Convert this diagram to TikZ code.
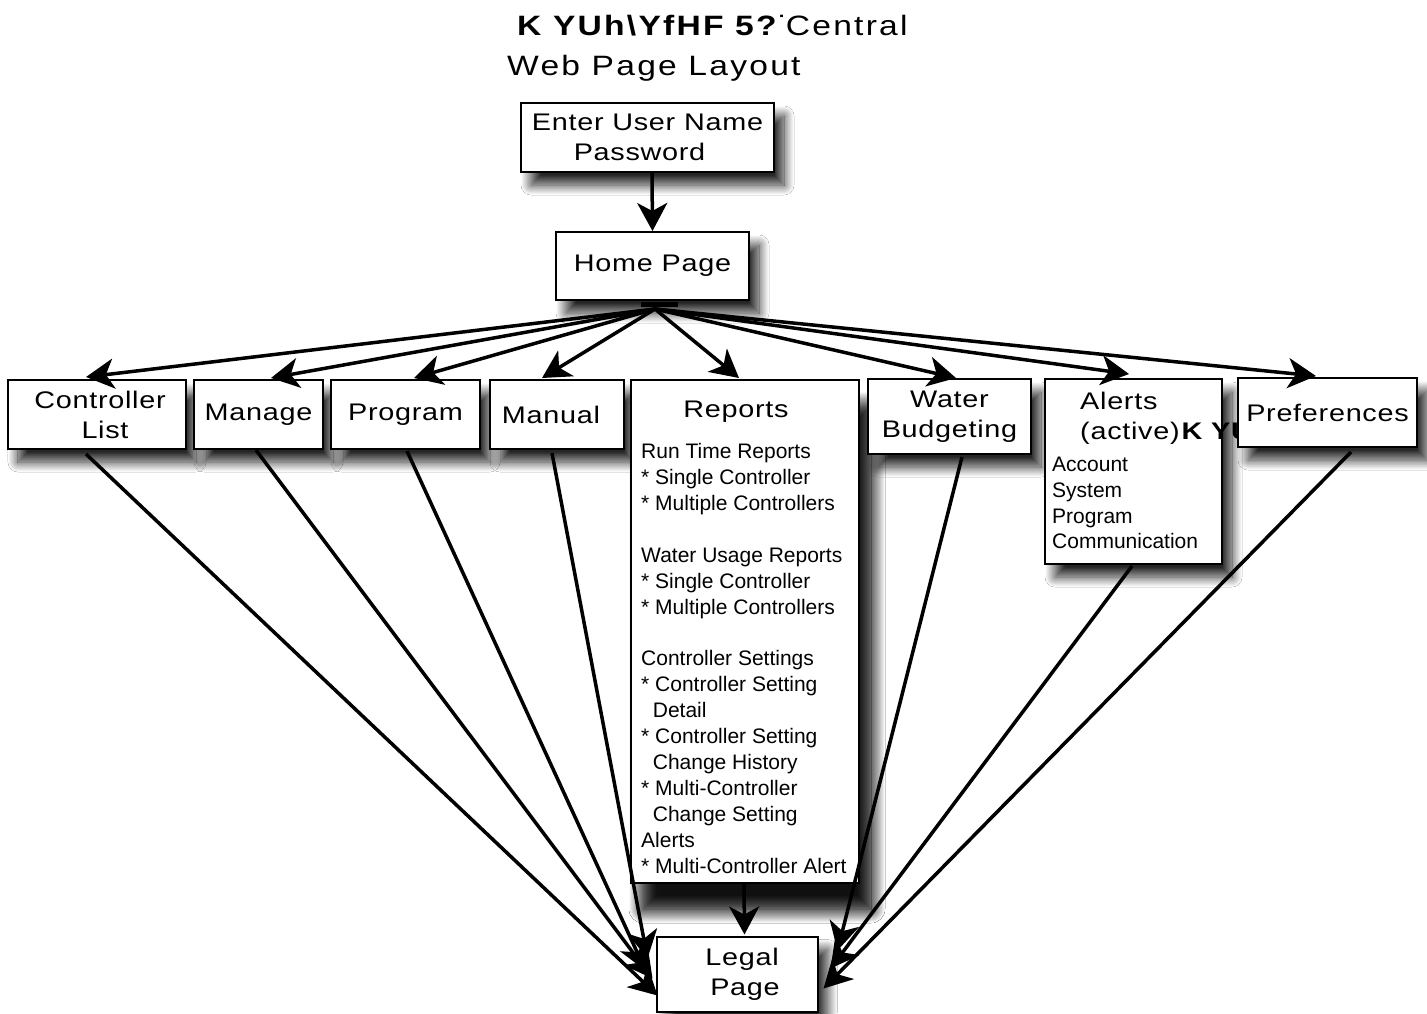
\documentclass[tikz,border=0pt]{standalone}
\usepackage{fontspec}
\setmainfont{Liberation Sans}
\newfontfamily\boxfont[FakeStretch=1.2,LetterSpace=3]{Liberation Sans}
\newfontfamily\titlefont[FakeStretch=1.2,LetterSpace=8]{Liberation Sans}
\usetikzlibrary{arrows.meta,calc,shadows.blur}
\tikzset{
  box/.style={draw, line width=2pt, fill=white,
    blur shadow={shadow xshift=10pt, shadow yshift=-13pt, shadow blur radius=10pt, shadow opacity=85, shadow blur steps=20},
    inner sep=0pt, align=center, font=\boxfont\fontsize{24}{30}\selectfont},
  con/.style={line width=3.5pt, -{Stealth[length=28pt,width=30pt,inset=8pt]}},
  lbl/.style={inner sep=0pt, anchor=base west, font=\fontsize{21}{26}\selectfont},
  ttl/.style={inner sep=0pt, anchor=base west, font=\boxfont\fontsize{24}{30}\selectfont},
}
\begin{document}
\begin{tikzpicture}[x=1pt,y=-1pt]
\useasboundingbox (0,0) rectangle (1427,1013);
\fill[white] (0,0) rectangle (1427,1013);

% title
\node[inner sep=0pt, anchor=base west] (title1) at (517,35)
  {\titlefont\fontsize{28}{40}\selectfont{\bfseries K YUh\textbackslash YfHF 5?}\kern1pt˙\kern-3pt Central};
\node[inner sep=0pt, anchor=base west] (title2) at (507,75)
  {\titlefont\fontsize{28}{40}\selectfont Web Page Layout};

% boxes
\node[box, minimum width=253pt, minimum height=69pt] (enter) at (647.5,137.5) {Enter User Name\\Password\hspace*{16pt}};
\node[box, minimum width=193pt, minimum height=68pt] (home) at (652.5,266) {Home Page};
\node[box, minimum width=178pt, minimum height=69pt] (cl) at (97,414.5) {\hspace*{6pt}Controller\\\hspace*{16pt}List};
\node[box, minimum width=129pt, minimum height=69pt] (manage) at (258.5,414.5) {Manage};
\node[box, minimum width=149pt, minimum height=69pt] (program) at (405.5,414.5) {Program};
\node[box, minimum width=134pt, minimum height=69pt] (manual) at (557,414.5) {Manual\hspace*{12pt}};
\node[box, minimum width=228pt, minimum height=503pt,
  blur shadow={shadow xshift=12pt, shadow yshift=-26pt, shadow blur radius=14pt, shadow opacity=75, shadow blur steps=20}] (reports) at (745,631.5) {};
\node[box, minimum width=163pt, minimum height=75pt] (water) at (949.5,416.5) {Water\\Budgeting};
\node[box, minimum width=177pt, minimum height=185pt] (alerts) at (1133.5,471.5) {};
\node[box, minimum width=161pt, minimum height=75pt] (legal) at (737,974) {\hspace*{10pt}Legal\\\hspace*{16pt}Page};

% reports text
\node[inner sep=0pt, font=\boxfont\fontsize{24}{30}\selectfont] (reptitle) at (736,412) {Reports};
\foreach \y/\t [count=\i] in {451/Run Time Reports, 477/* Single Controller, 503/* Multiple Controllers,
  555/Water Usage Reports, 581/* Single Controller, 607/* Multiple Controllers,
  658/Controller Settings, 684/* Controller Setting, 710/\ \ Detail, 736/* Controller Setting,
  762/\ \ Change History, 788/* Multi-Controller, 814/\ \ Change Setting, 840/Alerts,
  866/* Multi-Controller Alert}
  \node[lbl] (rep\i) at (641,\y+7.5) {\t};

% alerts text
\node[ttl] (alt1) at (1080,409) {Alerts};
\node[ttl] (alt2) at (1080,439) {(active)\kern2pt{\bfseries K YU}};
\foreach \y/\t [count=\i] in {464/Account, 490/System, 516/Program, 541/Communication}
  \node[lbl] (alc\i) at (1052,\y+7.5) {\t};

\node[box, minimum width=179pt, minimum height=69pt] (prefs) at (1327.5,412.5) {Preferences};

% connectors
\draw[con] ($(enter.south)+(4.5,0)$) -- (home.north);
\coordinate (hub) at ($(home.south)+(2.5,8)$);
\draw[con] (hub) -- ($(cl.north west)+(79,-2)$);
\draw[con] (hub) -- ($(manage.north west)+(78,-1)$);
\draw[con] (hub) -- ($(program.north west)+(84,-1)$);
\draw[con] (hub) -- ($(manual.north west)+(53,-1)$);
\draw[con] (hub) -- ($(reports.north west)+(109,-1)$);
\draw[con] (hub) -- ($(water.north west)+(89,0)$);
\draw[con] (hub) -- ($(alerts.north west)+(85,-4)$);
\draw[con] (hub) -- ($(prefs.north west)+(79,-1)$);
\draw[line width=5pt] ($(home.south)+(-12,3)$) -- ($(home.south)+(25,3)$);

\draw[con] ($(cl.south west)+(79,4)$) -- ($(legal.north west)+(2,60)$);
\draw[con] ($(manage.south west)+(63,0)$) -- ($(legal.north west)+(-3,43)$);
\draw[con] ($(program.south west)+(77,1)$) -- ($(legal.north west)+(-10,35)$);
\draw[con] ($(manual.south west)+(63,3)$) -- ($(legal.north west)+(-8,23)$);
\draw[con] ($(reports.south west)+(114,0)$) -- ($(legal.north west)+(89,-1)$);
\draw[con] ($(water.south west)+(95,2)$) -- ($(legal.north east)+(19,15)$);
\draw[con] ($(alerts.south west)+(88,1)$) -- ($(legal.north east)+(12,33)$);
\draw[con] ($(prefs.south west)+(114,4)$) -- ($(legal.north east)+(5,53)$);
\end{tikzpicture}
\end{document}
